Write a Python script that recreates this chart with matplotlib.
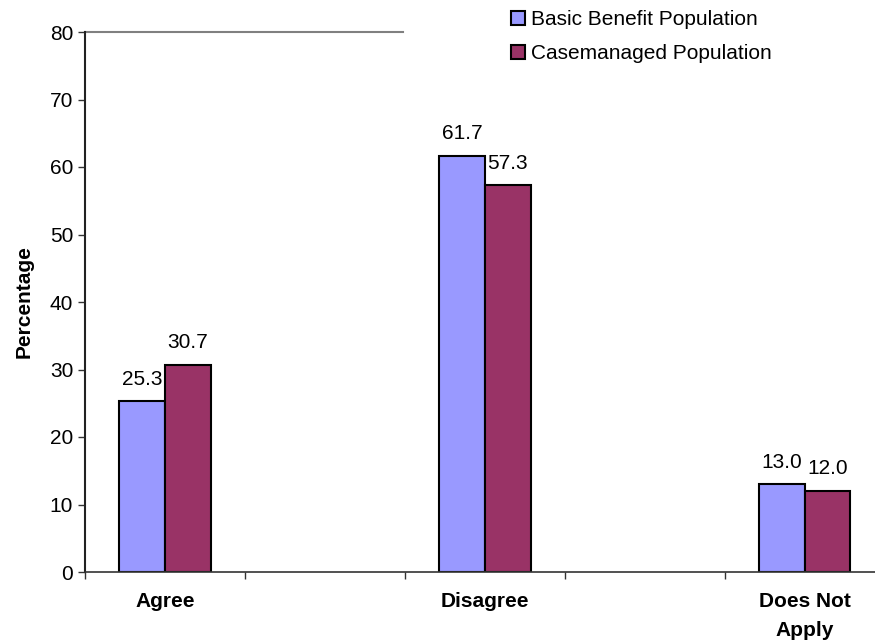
import matplotlib
matplotlib.use("Agg")
import matplotlib.pyplot as plt
import numpy as np
from matplotlib.patches import Patch

categories = ["Agree", "Disagree", "Does Not\nApply"]
basic_benefit = [25.3, 61.7, 13.0]
casemanaged = [30.7, 57.3, 12.0]

plt.rcParams['font.family'] = ['Liberation Sans', 'DejaVu Sans']
FS = 15

fig = plt.figure(figsize=(8.75, 6.43), dpi=100)
ax = fig.add_axes([85 / 875, 71 / 643, 1 - 85 / 875, 540 / 643])

x = np.arange(len(categories))
w = 0.143
b1 = ax.bar(x - w / 2, basic_benefit, w, color="#9999FF", edgecolor="black", linewidth=1.5)
b2 = ax.bar(x + w / 2, casemanaged, w, color="#993366", edgecolor="black", linewidth=1.5)

for bars, vals in [(b1, basic_benefit), (b2, casemanaged)]:
    for bar, v in zip(bars, vals):
        ax.annotate(f"{v:.1f}", (bar.get_x() + bar.get_width() / 2, v),
                    xytext=(0, 9), textcoords="offset points",
                    ha="center", va="bottom", fontsize=FS)

ax.set_ylim(0, 80)
ax.set_yticks(range(0, 81, 10))
ax.set_xlim(-0.25, 2.22)
ax.set_xticks([-0.25, 0.25, 0.75, 1.25, 1.75])
ax.set_xticklabels([])
ax.tick_params(axis="x", direction="out", length=5, width=1, color="#333333")
ax.tick_params(axis="y", direction="out", length=5, width=1, labelsize=FS, color="#333333")
for i, c in enumerate(categories):
    ax.text(i, -2.9, c, ha="center", va="top", fontsize=FS, fontweight="bold",
            linespacing=1.7)

ax.set_ylabel("Percentage", fontsize=FS, fontweight="bold", labelpad=12)

for s in ["top", "right"]:
    ax.spines[s].set_visible(False)
ax.spines["left"].set_color("#222222")
ax.spines["left"].set_linewidth(1.5)
ax.spines["bottom"].set_color("#333333")
ax.spines["bottom"].set_linewidth(1.2)
ax.plot([-0.25, 0.745], [80, 80], color="#808080", linewidth=1.5, clip_on=False)

handles = [Patch(facecolor="#9999FF", edgecolor="black", linewidth=1.5, label="Basic Benefit Population"),
           Patch(facecolor="#993366", edgecolor="black", linewidth=1.5, label="Casemanaged Population")]
fig.legend(handles=handles, loc="upper left", bbox_to_anchor=(503 / 875, 1 - 2 / 643),
           frameon=False, fontsize=FS, handlelength=0.65, handleheight=0.65,
           handletextpad=0.3, labelspacing=0.7, borderaxespad=0)

fig.savefig("out.png", dpi=100)
